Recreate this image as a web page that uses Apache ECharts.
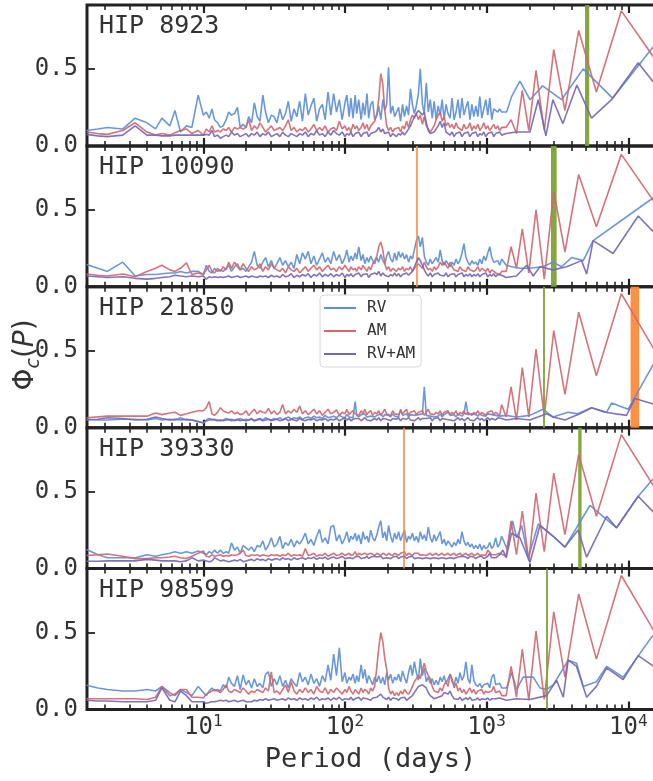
<!DOCTYPE html>
<html><head><meta charset="utf-8">
<script src="https://cdn.jsdelivr.net/npm/echarts@6/dist/echarts.min.js"></script>
<style>html,body{margin:0;padding:0;background:#fff}#c{width:653px;height:781px}</style>
</head><body><div id="c"></div>
<script>
// ---------- DATA ----------
const panelNames = ['HIP 8923', 'HIP 10090', 'HIP 21850', 'HIP 39330', 'HIP 98599'];
const seriesNames = ['RV', 'AM', 'RV+AM'];
const xTickLabels = [1, 2, 3, 4]; // exponents of 10
const yTickValues = [0, 0.5];
const xAxisTitle = 'Period (days)';

// shared period grid (days) for the dense part of the periodograms
const periods = [
 1.5, 1.8, 2.1, 2.7, 3.3, 4.0, 4.6, 5.1, 5.8, 6.3,
 6.9, 7.6, 8.3, 9.2, 10, 10.5, 11, 11.5, 12, 12.6,
 13.2, 13.8, 14.5, 15.1, 15.8, 16.6, 17.4, 18.2, 19.1, 20,
 20.9, 21.9, 22.9, 24, 25.1, 26.3, 27.5, 28.8, 30.2, 31.6,
 33.1, 34.7, 36.3, 38, 39.8, 41.7, 43.7, 45.7, 47.9, 50.1,
 52.5, 55, 57.5, 60.3, 63.1, 66.1, 69.2, 72.4, 75.9, 79.4,
 83.2, 87.1, 91.2, 95.5, 100, 103, 107, 110, 114, 118,
 121, 125, 130, 134, 138, 143, 147, 152, 157, 162,
 168, 173, 179, 185, 191, 197, 203, 210, 217, 224,
 231, 239, 247, 255, 263, 272, 281, 290, 299, 309,
 319, 330, 340, 352, 363, 375, 387, 400, 413, 426,
 440, 455, 470, 485, 501, 517, 534, 552, 570, 589,
 608, 628, 648, 670, 692, 714, 738, 762, 787, 812,
 839, 867, 895, 925, 955, 986, 1019, 1052, 1087, 1122,
 1159, 1197, 1236, 1276
];

// ---- HIP 8923 ----
const rv1 = [
 .10, .11, .12, .11, .18, .15, .11, .18, .13, .23,
 .09, .13, .12, .33, .20, .22, .18, .24, .17, .15,
 .12, .13, .17, .22, .20, .21, .25, .12, .14, .12,
 .19, .15, .28, .19, .16, .33, .22, .15, .20, .19,
 .15, .24, .17, .21, .29, .16, .24, .19, .29, .16,
 .34, .20, .26, .31, .16, .24, .27, .17, .35, .20,
 .34, .22, .30, .17, .28, .33, .19, .31, .18, .33,
 .21, .30, .17, .28, .20, .34, .18, .27, .29, .17,
 .20, .26, .17, .30, .23, .27, .51, .21, .26, .19,
 .18, .25, .16, .27, .19, .26, .20, .37, .27, .21,
 .26, .34, .50, .27, .21, .41, .22, .30, .18, .29,
 .17, .26, .20, .30, .17, .27, .21, .18, .31, .17,
 .22, .30, .18, .31, .20, .25, .29, .17, .27, .19,
 .26, .19, .32, .18, .24, .30, .20, .31, .17, .24,
 .25, .22, .24, .22
];
const am1 = [
 .09, .08, .075, .10, .15, .09, .07, .08, .07, .085,
 .10, .11, .08, .10, .07, .11, .09, .13, .09, .10,
 .09, .11, .10, .12, .09, .12, .11, .12, .11, .12,
 .17, .10, .13, .11, .15, .12, .09, .11, .13, .10,
 .11, .12, .10, .13, .17, .10, .12, .09, .11, .10,
 .12, .09, .11, .14, .10, .12, .10, .13, .09, .11,
 .12, .10, .16, .11, .13, .10, .12, .09, .14, .11,
 .13, .10, .12, .15, .11, .14, .10, .13, .12, .16,
 .21, .30, .47, .40, .23, .13, .10, .12, .09, .11,
 .10, .12, .09, .13, .11, .16, .12, .17, .20, .18,
 .21, .17, .20, .14, .19, .13, .12, .09, .11, .13,
 .17, .20, .22, .16, .19, .13, .15, .12, .14, .11,
 .15, .12, .13, .10, .14, .11, .12, .15, .10, .13,
 .11, .14, .10, .12, .15, .11, .13, .10, .12, .14,
 .11, .13, .10, .12
];
const rvam1 = [
 .075, .065, .06, .07, .13, .07, .07, .065, .065, .07,
 .07, .07, .07, .07, .07, .075, .07, .10, .06, .07,
 .05, .06, .07, .06, .09, .07, .08, .06, .07, .08,
 .06, .08, .07, .09, .06, .08, .07, .09, .06, .07,
 .08, .06, .09, .07, .06, .08, .07, .06, .08, .07,
 .09, .06, .08, .07, .10, .07, .08, .06, .09, .07,
 .10, .08, .07, .09, .06, .08, .07, .09, .06, .08,
 .07, .09, .06, .08, .07, .09, .06, .08, .07, .09,
 .10, .12, .09, .11, .08, .07, .09, .06, .08, .07,
 .06, .08, .07, .09, .07, .09, .11, .13, .16, .19,
 .21, .23, .24, .20, .22, .15, .10, .08, .07, .09,
 .10, .13, .16, .12, .15, .09, .08, .07, .09, .06,
 .08, .07, .09, .06, .08, .07, .09, .06, .08, .07,
 .09, .06, .08, .07, .09, .06, .08, .07, .09, .06,
 .08, .07, .09, .07
];
const rv1Tail = [[1384,.22],[1500,.32],[1718,.42],[2022,.30],[2485,.39],[3381,.30],[4806,.50],[7745,.31],[14590,.63],[17000,.70]];
const am1Tail = [[1374,.12],[1488,.17],[1624,.08],[1786,.36],[1984,.10],[2232,.49],[2551,.10],[2977,.625],[3572,.23],[4465,.75],[5953,.35],[8930,.877],[17860,.48]];
const rvam1Tail = [[1374,.08],[1624,.09],[2022,.09],[2313,.30],[2620,.065],[2936,.30],[3454,.145],[4335,.395],[5505,.18],[7620,.30],[11750,.54],[14590,.43],[17000,.35]];

// ---- HIP 10090 ----
const rv2 = [
 .145, .12, .10, .16, .07, .08, .08, .085, .09, .09,
 .10, .09, .10, .10, .08, .14, .10, .09, .12, .10,
 .11, .10, .12, .14, .10, .13, .15, .11, .12, .10,
 .13, .16, .23, .14, .12, .16, .19, .13, .17, .12,
 .15, .19, .14, .17, .13, .16, .12, .21, .15, .22,
 .18, .23, .15, .20, .14, .18, .22, .16, .19, .15,
 .23, .17, .21, .15, .19, .24, .16, .20, .17, .22,
 .18, .26, .17, .21, .15, .19, .16, .20, .17, .15,
 .19, .16, .21, .17, .15, .20, .23, .18, .16, .22,
 .17, .23, .19, .22, .18, .21, .16, .20, .18, .24,
 .30, .33, .26, .32, .20, .16, .14, .18, .15, .17,
 .19, .16, .24, .17, .14, .17, .15, .13, .16, .14,
 .18, .15, .17, .22, .28, .19, .16, .14, .17, .15,
 .16, .14, .18, .15, .20, .17, .22, .26, .19, .16,
 .15, .17, .14, .18
];
const am2 = [
 .083, .075, .07, .083, .065, .10, .12, .14, .11, .10,
 .12, .155, .08, .09, .08, .11, .14, .10, .09, .12,
 .10, .13, .11, .16, .12, .16, .13, .11, .15, .12,
 .10, .13, .11, .12, .15, .10, .13, .11, .15, .12,
 .11, .10, .12, .09, .13, .11, .10, .12, .09, .11,
 .13, .10, .12, .14, .11, .13, .10, .12, .14, .11,
 .12, .10, .13, .11, .14, .12, .10, .13, .11, .12,
 .10, .13, .11, .14, .12, .10, .13, .11, .15, .17,
 .20, .26, .29, .24, .15, .11, .13, .10, .12, .11,
 .10, .12, .11, .13, .10, .12, .11, .13, .10, .12,
 .13, .15, .16, .12, .16, .13, .11, .12, .10, .13,
 .11, .13, .16, .14, .16, .15, .12, .16, .13, .11,
 .12, .10, .13, .11, .12, .10, .13, .11, .12, .10,
 .11, .13, .10, .12, .11, .10, .12, .09, .11, .10,
 .09, .10, .08, .10
];
const rvam2 = [
 .07, .065, .06, .065, .055, .05, .055, .06, .065, .075,
 .07, .065, .07, .065, .07, .05, .065, .06, .065, .06,
 .065, .06, .065, .07, .06, .065, .07, .06, .065, .07,
 .06, .07, .065, .06, .07, .065, .07, .06, .075, .065,
 .07, .06, .08, .065, .07, .085, .06, .075, .065, .08,
 .07, .085, .06, .08, .07, .09, .065, .08, .07, .085,
 .065, .08, .07, .09, .06, .08, .07, .085, .065, .08,
 .07, .09, .065, .08, .07, .085, .06, .08, .07, .09,
 .08, .10, .07, .09, .075, .085, .065, .08, .07, .09,
 .07, .085, .065, .08, .07, .09, .075, .085, .10, .13,
 .16, .19, .17, .14, .11, .085, .07, .09, .065, .08,
 .07, .09, .075, .085, .07, .09, .065, .08, .07, .085,
 .065, .08, .07, .09, .065, .08, .07, .085, .065, .08,
 .07, .085, .065, .08, .07, .09, .065, .08, .07, .085,
 .065, .08, .07, .075
];
const rv2Tail = [[1374,.14],[1500,.13],[1718,.12],[2022,.12],[2485,.13],[2938,.16],[3381,.13],[3980,.19],[4806,.17],[5650,.30],[14590,.57],[17000,.61]];
const am2Tail = [[1374,.10],[1488,.26],[1624,.12],[1786,.376],[1984,.09],[2232,.50],[2551,.05],[2977,.62],[3572,.226],[4465,.73],[5953,.39],[8930,.86],[17860,.46]];
const rvam2Tail = [[1374,.06],[1624,.07],[1914,.14],[2133,.07],[2377,.13],[2938,.11],[3671,.13],[4680,.17],[5080,.083],[5650,.30],[7810,.216],[11750,.46],[14590,.37],[17000,.31]];

// ---- HIP 21850 ----
const rv3 = [
 .055, .05, .05, .055, .055, .05, .06, .05, .055, .05,
 .065, .05, .05, .04, .03, .05, .06, .05, .055, .05,
 .045, .05, .06, .05, .055, .045, .05, .06, .05, .055,
 .05, .06, .045, .055, .06, .05, .065, .055, .05, .06,
 .055, .065, .05, .06, .07, .055, .065, .06, .07, .055,
 .065, .07, .06, .075, .065, .07, .06, .08, .065, .07,
 .075, .065, .08, .07, .065, .085, .07, .075, .065, .17,
 .08, .07, .085, .075, .09, .07, .08, .075, .085, .07,
 .08, .075, .09, .07, .085, .075, .08, .07, .09, .075,
 .085, .07, .12, .08, .075, .09, .07, .085, .075, .08,
 .07, .085, .075, .09, .265, .08, .09, .075, .085, .07,
 .08, .075, .09, .07, .085, .075, .10, .08, .075, .085,
 .07, .09, .08, .075, .09, .17, .085, .075, .09, .08,
 .085, .075, .09, .08, .085, .075, .09, .08, .085, .075,
 .08, .09, .075, .085
];
const am3 = [
 .065, .07, .075, .075, .075, .075, .095, .085, .095, .10,
 .08, .09, .10, .11, .11, .13, .17, .09, .08, .10,
 .13, .11, .10, .095, .11, .09, .10, .085, .09, .11,
 .08, .10, .12, .09, .11, .10, .095, .125, .09, .11,
 .085, .10, .15, .09, .11, .095, .12, .10, .14, .09,
 .11, .085, .10, .12, .09, .11, .08, .10, .12, .09,
 .10, .115, .08, .10, .09, .12, .085, .10, .11, .09,
 .10, .08, .11, .09, .12, .085, .10, .11, .08, .10,
 .09, .11, .08, .10, .12, .09, .10, .08, .11, .09,
 .10, .085, .11, .09, .10, .12, .08, .10, .09, .11,
 .085, .10, .09, .11, .08, .10, .12, .09, .10, .085,
 .10, .09, .11, .08, .10, .09, .11, .085, .10, .09,
 .11, .08, .10, .09, .11, .085, .10, .09, .08, .10,
 .09, .11, .085, .10, .09, .08, .10, .09, .11, .085,
 .10, .09, .08, .15
];
const rvam3 = [
 .05, .055, .065, .06, .05, .055, .07, .06, .05, .055,
 .05, .055, .05, .04, .03, .045, .05, .055, .05, .045,
 .05, .045, .05, .055, .045, .05, .055, .045, .05, .045,
 .05, .055, .045, .05, .055, .045, .05, .055, .045, .05,
 .055, .045, .05, .06, .045, .055, .05, .045, .06, .05,
 .045, .055, .05, .06, .045, .055, .05, .06, .045, .055,
 .05, .06, .045, .055, .065, .05, .06, .045, .055, .06,
 .05, .06, .045, .055, .065, .05, .06, .045, .055, .06,
 .05, .065, .045, .06, .05, .055, .065, .045, .06, .05,
 .055, .065, .045, .06, .05, .055, .065, .05, .06, .045,
 .055, .065, .05, .06, .07, .06, .05, .065, .045, .06,
 .05, .065, .045, .06, .05, .055, .065, .05, .06, .045,
 .055, .065, .05, .06, .045, .055, .065, .05, .06, .045,
 .055, .065, .05, .06, .045, .055, .065, .05, .06, .055,
 .05, .065, .055, .06
];
const rv3Tail = [[1374,.08],[1624,.07],[2022,.08],[2495,.12],[2938,.07],[3750,.10],[4410,.09],[5505,.13],[7030,.10],[7620,.16],[9980,.12],[14590,.39],[17000,.50]];
const am3Tail = [[1374,.07],[1488,.265],[1624,.05],[1786,.39],[1984,.07],[2232,.51],[2551,.07],[2977,.63],[3572,.217],[4465,.75],[5953,.337],[8930,.87],[17860,.40]];
const rvam3Tail = [[1374,.05],[1624,.06],[2022,.05],[2650,.09],[2938,.07],[3570,.05],[4550,.09],[5505,.13],[6840,.10],[9720,.08],[11140,.19],[14590,.157],[17000,.14]];

// ---- HIP 39330 ----
const rv4 = [
 .124, .09, .07, .07, .07, .09, .08, .09, .10, .11,
 .10, .11, .10, .115, .10, .09, .11, .10, .12, .10,
 .12, .10, .11, .10, .167, .12, .14, .10, .15, .135,
 .12, .14, .11, .15, .14, .18, .12, .15, .20, .14,
 .16, .21, .13, .17, .15, .19, .14, .18, .16, .19,
 .23, .16, .19, .15, .21, .255, .17, .20, .16, .27,
 .28, .18, .22, .16, .20, .24, .17, .21, .19, .23,
 .18, .22, .16, .24, .19, .21, .17, .25, .20, .18,
 .22, .27, .31, .20, .24, .18, .28, .21, .17, .23,
 .19, .24, .18, .22, .25, .17, .21, .19, .23, .18,
 .21, .17, .24, .19, .22, .18, .27, .20, .17, .22,
 .18, .21, .24, .16, .19, .15, .18, .16, .14, .17,
 .15, .19, .16, .24, .18, .15, .17, .14, .16, .13,
 .15, .13, .16, .12, .15, .13, .14, .17, .13, .15,
 .20, .14, .16, .21
];
const am4 = [
 .085, .09, .095, .08, .065, .065, .07, .07, .075, .08,
 .07, .065, .08, .10, .115, .08, .075, .09, .08, .085,
 .09, .08, .085, .08, .09, .085, .09, .10, .12, .085,
 .08, .09, .085, .09, .08, .09, .085, .08, .09, .085,
 .09, .08, .09, .085, .10, .08, .09, .085, .09, .08,
 .13, .085, .09, .10, .08, .09, .085, .10, .08, .09,
 .10, .085, .09, .10, .085, .09, .10, .085, .09, .11,
 .085, .10, .09, .085, .10, .09, .085, .10, .09, .085,
 .10, .09, .085, .10, .09, .085, .10, .09, .085, .10,
 .09, .085, .10, .09, .11, .085, .10, .09, .085, .10,
 .09, .10, .085, .09, .10, .085, .09, .10, .085, .09,
 .10, .085, .09, .10, .085, .09, .10, .085, .09, .10,
 .085, .09, .10, .085, .09, .10, .085, .09, .10, .085,
 .09, .10, .085, .09, .10, .085, .12, .13, .09, .085,
 .09, .085, .10, .11
];
const rvam4 = [
 .048, .048, .05, .05, .05, .06, .055, .05, .05, .05,
 .045, .05, .07, .05, .055, .05, .045, .05, .07, .06,
 .05, .055, .05, .045, .05, .055, .05, .06, .045, .05,
 .055, .06, .05, .065, .055, .06, .05, .065, .055, .06,
 .065, .055, .07, .06, .065, .055, .07, .06, .065, .07,
 .06, .07, .065, .075, .06, .07, .065, .075, .06, .07,
 .075, .065, .07, .08, .065, .075, .07, .08, .065, .075,
 .07, .08, .065, .075, .07, .08, .065, .075, .07, .08,
 .075, .07, .08, .065, .075, .07, .08, .065, .075, .07,
 .08, .065, .075, .07, .08, .065, .075, .07, .08, .065,
 .075, .07, .08, .065, .075, .07, .08, .065, .075, .07,
 .08, .065, .075, .07, .08, .065, .075, .07, .08, .065,
 .07, .075, .065, .08, .07, .075, .065, .08, .07, .075,
 .065, .075, .07, .08, .065, .075, .08, .10, .07, .075,
 .07, .08, .09, .10
];
const rv4Tail = [[1390,.13],[1524,.31],[1628,.20],[1765,.28],[1967,.07],[2313,.29],[2952,.21],[3572,.14],[5360,.41],[8260,.265],[11750,.47],[14590,.57],[17000,.63]];
const am4Tail = [[1374,.08],[1488,.31],[1624,.09],[1786,.374],[1984,.05],[2232,.49],[2551,.11],[2977,.62],[3572,.22],[4465,.74],[5953,.34],[8930,.87],[17860,.43]];
const rvam4Tail = [[1303,.12],[1374,.07],[1500,.23],[1718,.20],[2022,.04],[2377,.28],[2952,.21],[3572,.14],[4430,.25],[5080,.074],[7030,.34],[8260,.265],[11750,.47],[14590,.38],[17000,.31]];

// ---- HIP 98599 ----
const rv5 = [
 .158, .14, .13, .12, .12, .13, .12, .15, .11, .09,
 .13, .11, .09, .15, .11, .09, .12, .14, .12, .13,
 .12, .16, .14, .21, .17, .15, .22, .13, .225, .16,
 .19, .14, .20, .15, .17, .14, .23, .245, .15, .20,
 .16, .22, .15, .19, .14, .20, .17, .15, .24, .18,
 .21, .16, .23, .17, .20, .15, .22, .18, .29, .19,
 .36, .22, .40, .18, .24, .17, .21, .19, .23, .17,
 .22, .18, .29, .20, .26, .17, .22, .19, .16, .21,
 .18, .22, .17, .21, .16, .24, .19, .23, .17, .21,
 .19, .23, .18, .25, .21, .17, .24, .29, .22, .31,
 .24, .19, .33, .22, .27, .18, .21, .17, .20, .16,
 .19, .16, .21, .18, .22, .17, .20, .23, .18, .16,
 .21, .17, .24, .19, .22, .31, .20, .17, .29, .19,
 .16, .15, .17, .14, .16, .15, .17, .14, .21, .23,
 .16, .15, .17, .14
];
const am5 = [
 .07, .07, .07, .07, .07, .065, .08, .15, .09, .10,
 .13, .13, .08, .08, .075, .10, .11, .12, .13, .12,
 .11, .13, .16, .12, .11, .13, .12, .11, .14, .12,
 .10, .12, .11, .13, .12, .11, .14, .12, .245, .11,
 .12, .10, .13, .16, .11, .18, .12, .10, .13, .11,
 .14, .11, .13, .10, .15, .12, .11, .14, .10, .13,
 .11, .14, .12, .10, .13, .11, .15, .12, .10, .13,
 .12, .10, .14, .11, .13, .12, .10, .14, .12, .15,
 .28, .40, .50, .44, .33, .26, .14, .10, .12, .09,
 .11, .09, .12, .10, .13, .11, .10, .12, .15, .18,
 .18, .22, .20, .26, .30, .25, .22, .20, .15, .12,
 .13, .11, .14, .12, .16, .18, .15, .23, .20, .14,
 .17, .12, .14, .11, .13, .10, .12, .14, .11, .13,
 .10, .12, .11, .13, .10, .12, .11, .10, .12, .15,
 .11, .10, .12, .09
];
const rvam5 = [
 .06, .055, .055, .05, .05, .05, .06, .14, .06, .05,
 .12, .09, .05, .05, .05, .04, .045, .05, .05, .055,
 .06, .055, .06, .05, .055, .06, .05, .055, .06, .05,
 .05, .05, .06, .055, .065, .06, .07, .06, .065, .07,
 .06, .065, .07, .06, .075, .065, .07, .06, .075, .065,
 .07, .06, .075, .065, .08, .06, .07, .065, .075, .06,
 .075, .065, .08, .06, .07, .075, .065, .08, .06, .07,
 .065, .08, .06, .075, .065, .07, .08, .06, .075, .065,
 .08, .09, .10, .08, .07, .065, .08, .06, .075, .065,
 .07, .06, .075, .065, .08, .06, .07, .075, .09, .11,
 .13, .15, .14, .16, .17, .14, .11, .09, .08, .07,
 .065, .08, .07, .09, .11, .12, .10, .12, .09, .07,
 .075, .065, .08, .06, .07, .075, .065, .08, .06, .07,
 .065, .075, .06, .07, .08, .065, .075, .06, .07, .065,
 .07, .06, .075, .065
];
const rv5Tail = [[1384,.14],[1500,.24],[1628,.13],[1811,.21],[2133,.21],[2377,.14],[2650,.13],[2952,.16],[3766,.32],[4315,.30],[4806,.15],[5953,.18],[7030,.28],[9200,.21],[14590,.47],[17000,.52]];
const am5Tail = [[1374,.09],[1488,.28],[1624,.08],[1786,.39],[1984,.06],[2232,.51],[2551,.065],[2977,.634],[3572,.21],[4465,.75],[5953,.327],[8930,.87],[17860,.40]];
const rvam5Tail = [[1374,.06],[1624,.07],[2022,.065],[2650,.09],[3120,.19],[3476,.08],[3766,.32],[4315,.28],[5080,.08],[5953,.15],[7030,.27],[9200,.195],[11750,.35],[14590,.29],[17000,.25]];

// highlighted periods (days) per panel
const greenBands  = [[4950, 5300], [2845, 3120], null, [4430, 4680], null];
const orangeBands = [null, null, [10380, 11940], null, null];
const greenLines  = [null, null, 2550, null, 2665];
const orangeLines = [null, 321, null, 258, null];

// ---------- BUILD ----------
const dense = [[rv1, am1, rvam1], [rv2, am2, rvam2], [rv3, am3, rvam3], [rv4, am4, rvam4], [rv5, am5, rvam5]];
const tails = [[rv1Tail, am1Tail, rvam1Tail], [rv2Tail, am2Tail, rvam2Tail], [rv3Tail, am3Tail, rvam3Tail], [rv4Tail, am4Tail, rvam4Tail], [rv5Tail, am5Tail, rvam5Tail]];
const problems = [];
dense.forEach((p, i) => p.forEach((a, j) => { if (a.length !== periods.length) problems.push('panel ' + (i+1) + ' series ' + j + ' len ' + a.length); }));

const MONO = "'DejaVu Sans Mono', monospace";
const TXT = '#333333';
const AX = '#222222';
const COLORS = ['#5b8fd7', '#d2676f', '#7767b3'];
const GREEN = '#7da334', ORANGE = '#fd8a3a';

const X_MIN = 1.509, X_MAX = 15690;
const LMIN = Math.log10(X_MIN), LMAX = Math.log10(X_MAX);
const minorTicks = [];
for (let d = 0; d <= 4; d++) for (let k = 2; k <= 9; k++) {
  const v = Math.log10(k) + d; if (v > LMIN && v < LMAX) minorTicks.push(v);
}

const GL = 87, GW = 569, T0 = 5, H = 140.9;
const grids = [], xAxes = [], yAxes = [], series = [], graphics = [];

panelNames.forEach((name, i) => {
  grids.push({left: GL, width: GW, top: T0 + i * H, height: H, show: true, containLabel: false,
    outerBoundsMode: 'none',
    borderColor: AX, borderWidth: 3, backgroundColor: 'transparent'});
  const base = i * 5;
  xAxes.push({gridIndex: i, type: 'log', logBase: 10, min: X_MIN, max: X_MAX, show: false});
  const deco = (pos, len, width, vals) => ({
    gridIndex: i, type: 'value', min: LMIN, max: LMAX, position: pos,
    axisLine: {show: false, onZero: false},
    splitLine: {show: false},
    axisTick: {show: true, inside: true, length: len, lineStyle: {color: AX, width: width}, customValues: vals},
    axisLabel: {show: false}
  });
  xAxes.push(deco('bottom', 8, 2.2, xTickLabels));
  xAxes.push(deco('bottom', 5, 1.6, minorTicks));
  xAxes.push(deco('top', 8, 2.2, xTickLabels));
  xAxes.push(deco('top', 5, 1.6, minorTicks));
  yAxes.push({gridIndex: i, type: 'value', min: 0, max: 0.915,
    axisLine: {show: false, onZero: false}, splitLine: {show: false},
    axisTick: {show: true, inside: true, length: 8, lineStyle: {color: AX, width: 1.8}, customValues: yTickValues},
    axisLabel: {show: true, customValues: yTickValues, margin: 9, formatter: v => v.toFixed(1),
      fontSize: 24, fontFamily: MONO, color: TXT}});

  seriesNames.forEach((sn, j) => {
    const data = periods.map((p, k) => [p, dense[i][j][k]]).concat(tails[i][j]);
    const s = {name: sn, type: 'line', xAxisIndex: base, yAxisIndex: i, data: data,
      showSymbol: false, symbol: 'none', z: 3 + j, animation: false, silent: true,
      lineStyle: {color: COLORS[j], width: 1.6, opacity: 0.92}, itemStyle: {color: COLORS[j]}};
    if (j === 0) {
      const areas = [];
      if (greenBands[i]) areas.push([{xAxis: greenBands[i][0], itemStyle: {color: GREEN, opacity: 0.95}}, {xAxis: greenBands[i][1]}]);
      if (orangeBands[i]) areas.push([{xAxis: orangeBands[i][0], itemStyle: {color: ORANGE, opacity: 0.95}}, {xAxis: orangeBands[i][1]}]);
      if (areas.length) s.markArea = {silent: true, data: areas};
      const lines = [];
      if (greenLines[i]) lines.push({xAxis: greenLines[i], lineStyle: {color: GREEN, width: 1.8, type: 'solid', opacity: 1}});
      if (orangeLines[i]) lines.push({xAxis: orangeLines[i], lineStyle: {color: ORANGE, width: 1.6, type: 'solid', opacity: 1}});
      if (lines.length) s.markLine = {silent: true, symbol: ['none', 'none'], label: {show: false}, data: lines, animation: false};
    }
    series.push(s);
  });

  graphics.push({type: 'text', left: 99, top: T0 + i * H + 9, silent: true, z: 10,
    style: {text: name, fontSize: 25, fontFamily: MONO, fill: TXT}});
});

graphics.push({type: 'text', x: 26, y: 355, rotation: Math.PI / 2, silent: true, z: 10,
  style: {text: '{a|Φ}{s|c}{a|(}{i|P}{a|)}', align: 'center', verticalAlign: 'middle',
    rich: {a: {fontSize: 28, fontFamily: 'DejaVu Sans', fill: TXT, lineHeight: 36},
           i: {fontSize: 28, fontFamily: 'DejaVu Sans', fontStyle: 'italic', fill: TXT, lineHeight: 36},
           s: {fontSize: 19, fontFamily: 'DejaVu Sans', fontStyle: 'italic', fill: TXT, verticalAlign: 'bottom', lineHeight: 20}}}});

const chart = echarts.init(document.getElementById('c'), null, {renderer: 'canvas'});
chart.setOption({
  animation: false,
  grid: grids, xAxis: xAxes, yAxis: yAxes, series: series,
  legend: {data: seriesNames, orient: 'vertical', left: 320, top: 295, selectedMode: false,
    icon: 'rect', itemWidth: 32, itemHeight: 2, itemGap: 7,
    backgroundColor: 'rgba(255,255,255,0.85)', borderColor: '#d6d6d6', borderWidth: 1, borderRadius: 4,
    padding: [5, 6, 5, 4],
    textStyle: {fontSize: 16, fontFamily: MONO, color: TXT, padding: [0, 0, 0, 6]}}
});

// x tick labels of the bottom panel, placed through the log axis scale
const lastIdx = panelNames.length - 1;
const bottomY = T0 + (lastIdx + 1) * H;
xTickLabels.forEach(e => {
  const px = chart.convertToPixel({xAxisIndex: lastIdx * 5}, Math.pow(10, e));
  graphics.push({type: 'text', x: px, y: bottomY + 18, silent: true, z: 10,
    style: {text: '{b|10}{s|' + e + '}', align: 'center', verticalAlign: 'middle',
      rich: {b: {fontSize: 24, fontFamily: MONO, fill: TXT, lineHeight: 27},
             s: {fontSize: 16, fontFamily: MONO, fill: TXT, verticalAlign: 'top', lineHeight: 16}}}});
});
graphics.push({type: 'text', x: 370.5, y: 760, silent: true, z: 10,
  style: {text: xAxisTitle, align: 'center', verticalAlign: 'middle', fontSize: 27, fontFamily: MONO, fill: TXT}});
chart.setOption({graphic: graphics});
if (problems.length) setTimeout(() => { throw new Error(problems.join('; ')); }, 0);
</script></body></html>
